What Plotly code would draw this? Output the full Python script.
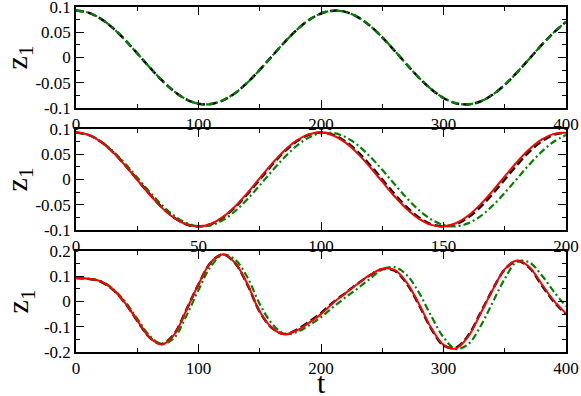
import plotly.graph_objects as go
from plotly.subplots import make_subplots

# --- data ---
t_top = list(range(0, 401, 10))
z_top_black = [0.0930, 0.0889, 0.0771, 0.0586, 0.0348, 0.0083, -0.0191, -0.0449, -0.0667, -0.0828,
               -0.0915, -0.0922, -0.0847, -0.0704, -0.0495, -0.0245, 0.0027, 0.0297, 0.0542, 0.0740,
               0.0872, 0.0928, 0.0904, 0.0801, 0.0628, 0.0400, 0.0137, -0.0138, -0.0401, -0.0627,
               -0.0802, -0.0904, -0.0928, -0.0871, -0.0739, -0.0541, -0.0297, -0.0028, 0.0245, 0.0495,
               0.0704]
z_top_green = list(z_top_black)

t_mid = list(range(0, 201, 5))
z_mid_black = [0.0930, 0.0885, 0.0752, 0.0547, 0.0287, 0.0, -0.0287, -0.0547, -0.0752, -0.0885,
               -0.0930, -0.0885, -0.0752, -0.0547, -0.0287, 0.0, 0.0287, 0.0547, 0.0752, 0.0885,
               0.0930, 0.0885, 0.0752, 0.0547, 0.0287, 0.0, -0.0287, -0.0547, -0.0752, -0.0885,
               -0.0930, -0.0885, -0.0752, -0.0547, -0.0287, 0.0, 0.0287, 0.0547, 0.0752, 0.0885,
               0.0930]
z_mid_green = [0.0930, 0.0887, 0.0761, 0.0565, 0.0316, 0.0038, -0.0243, -0.0502, -0.0715, -0.0861,
               -0.0927, -0.0907, -0.0803, -0.0624, -0.0387, -0.0115, 0.0168, 0.0436, 0.0663, 0.0829,
               0.0917, 0.0921, 0.0839, 0.0679, 0.0456, 0.0191, -0.0092, -0.0367, -0.0607, -0.0791,
               -0.0902, -0.0928, -0.0869, -0.0729, -0.0521, -0.0265, 0.0016, 0.0295, 0.0547, 0.0748,
               0.0880]
z_mid_red = [0.0930, 0.0884, 0.0750, 0.0542, 0.0281, -0.0009, -0.0297, -0.0557, -0.0761, -0.0889,
             -0.0930, -0.0878, -0.0739, -0.0528, -0.0264, 0.0027, 0.0314, 0.0571, 0.0771, 0.0894,
             0.0929, 0.0872, 0.0729, 0.0513, 0.0247, -0.0044, -0.0331, -0.0585, -0.0780, -0.0899,
             -0.0929, -0.0866, -0.0718, -0.0498, -0.0230, 0.0062, 0.0347, 0.0598, 0.0790, 0.0903,
             0.0927]

t_bot = list(range(0, 401, 10))
z_bot_red = [0.093, 0.090, 0.080, 0.048, -0.005, -0.075, -0.143, -0.170, -0.132, -0.035,
             0.068, 0.155, 0.187, 0.152, 0.068, -0.040, -0.105, -0.130, -0.115, -0.085,
             -0.050, -0.005, 0.033, 0.070, 0.105, 0.130, 0.125, 0.075, -0.010, -0.105,
             -0.172, -0.186, -0.140, -0.050, 0.045, 0.128, 0.162, 0.137, 0.070, 0.003,
             -0.048]
z_bot_black = [0.093, 0.090, 0.079, 0.047, -0.006, -0.076, -0.142, -0.168, -0.130, -0.034,
               0.068, 0.154, 0.186, 0.151, 0.066, -0.041, -0.105, -0.129, -0.112, -0.081,
               -0.046, -0.003, 0.034, 0.071, 0.104, 0.128, 0.122, 0.071, -0.014, -0.108,
               -0.174, -0.183, -0.136, -0.047, 0.046, 0.127, 0.160, 0.134, 0.066, 0.000,
               -0.050]
z_bot_green = [0.093, 0.090, 0.081, 0.051, 0.000, -0.068, -0.135, -0.168, -0.145, -0.058,
               0.045, 0.138, 0.185, 0.165, 0.095, -0.010, -0.088, -0.127, -0.122, -0.095,
               -0.062, -0.022, 0.016, 0.052, 0.090, 0.127, 0.136, 0.105, 0.035, -0.058,
               -0.142, -0.188, -0.170, -0.100, -0.005, 0.090, 0.158, 0.155, 0.105, 0.040,
               -0.020]

x_ticks_top = [0, 100, 200, 300, 400]
x_ticks_mid = [0, 50, 100, 150, 200]
y_ticks_small = [-0.1, -0.05, 0, 0.05, 0.1]
y_text_small = ["-0.1", "-0.05", "0", "0.05", "0.1"]
y_ticks_big = [-0.2, -0.1, 0, 0.1, 0.2]
y_text_big = ["-0.2", "-0.1", "0", "0.1", "0.2"]

FONT = "Liberation Serif"
BLACK_DASH = "8px,4px"
GREEN_DASH = "7px,3px,2px,3px"

fig = make_subplots(rows=3, cols=1)

# panneau du haut
fig.add_trace(go.Scatter(x=t_top, y=z_top_black, mode="lines", line_shape="spline",
                         line=dict(color="black", width=2.5, dash=BLACK_DASH)), row=1, col=1)
fig.add_trace(go.Scatter(x=t_top, y=z_top_green, mode="lines", line_shape="spline",
                         line=dict(color="#008000", width=2.2, dash=GREEN_DASH)), row=1, col=1)

# panneau du milieu
fig.add_trace(go.Scatter(x=t_mid, y=z_mid_black, mode="lines", line_shape="spline",
                         line=dict(color="black", width=2.5, dash=BLACK_DASH)), row=2, col=1)
fig.add_trace(go.Scatter(x=t_mid, y=z_mid_green, mode="lines", line_shape="spline",
                         line=dict(color="#008000", width=2.2, dash=GREEN_DASH)), row=2, col=1)
fig.add_trace(go.Scatter(x=t_mid, y=z_mid_red, mode="lines", line_shape="spline",
                         line=dict(color="#ff0000", width=2)), row=2, col=1)

# panneau du bas
fig.add_trace(go.Scatter(x=t_bot, y=z_bot_black, mode="lines", line_shape="spline",
                         line=dict(color="black", width=2.5, dash=BLACK_DASH)), row=3, col=1)
fig.add_trace(go.Scatter(x=t_bot, y=z_bot_green, mode="lines", line_shape="spline",
                         line=dict(color="#008000", width=2.2, dash=GREEN_DASH)), row=3, col=1)
fig.add_trace(go.Scatter(x=t_bot, y=z_bot_red, mode="lines", line_shape="spline",
                         line=dict(color="#ff0000", width=2)), row=3, col=1)

axis_common = dict(showline=True, linecolor="black", linewidth=1.5, mirror="allticks",
                   ticks="inside", ticklen=8, tickwidth=1.2, tickcolor="black",
                   showgrid=False, zeroline=False, automargin=False,
                   ticklabeloverflow="allow",
                   tickfont=dict(family=FONT, size=17, color="black"))

domains = [[0.7072, 1.0], [0.3536, 0.6464], [0.0, 0.2928]]
for i in range(3):
    r = i + 1
    if i == 1:
        fig.update_xaxes(range=[0, 200], tickvals=x_ticks_mid,
                         minor=dict(dtick=25, ticks="inside", ticklen=4, tickcolor="black"),
                         row=r, col=1, **axis_common)
    else:
        fig.update_xaxes(range=[0, 400], tickvals=x_ticks_top,
                         minor=dict(dtick=50, ticks="inside", ticklen=4, tickcolor="black"),
                         row=r, col=1, **axis_common)
    if i == 2:
        fig.update_yaxes(range=[-0.2, 0.2], tickvals=y_ticks_big, ticktext=y_text_big,
                         minor=dict(dtick=0.05, ticks="inside", ticklen=4, tickcolor="black"),
                         row=r, col=1, **axis_common)
    else:
        fig.update_yaxes(range=[-0.1, 0.1], tickvals=y_ticks_small, ticktext=y_text_small,
                         minor=dict(dtick=0.025, ticks="inside", ticklen=4, tickcolor="black"),
                         row=r, col=1, **axis_common)
    fig.update_yaxes(domain=domains[i], row=r, col=1,
                     title=dict(text="z<sub>1</sub>", font=dict(family=FONT, size=30, color="black"),
                                standoff=6))

# titre "t" sous le dernier panneau
fig.add_annotation(text="t", xref="paper", yref="paper", x=0.5, y=-0.088,
                   xanchor="center", yanchor="middle", showarrow=False,
                   font=dict(family=FONT, size=30, color="black"))

fig.update_layout(
    width=581, height=396,
    margin=dict(l=76, r=15, t=7, b=44),
    plot_bgcolor="white", paper_bgcolor="white",
    font=dict(family=FONT, color="black"),
    showlegend=False,
)

# la page a une marge de 8px par défaut : on la retire
fig.write_html("out.html", config={"displayModeBar": False},
               post_script="document.body.style.margin = '0';")
